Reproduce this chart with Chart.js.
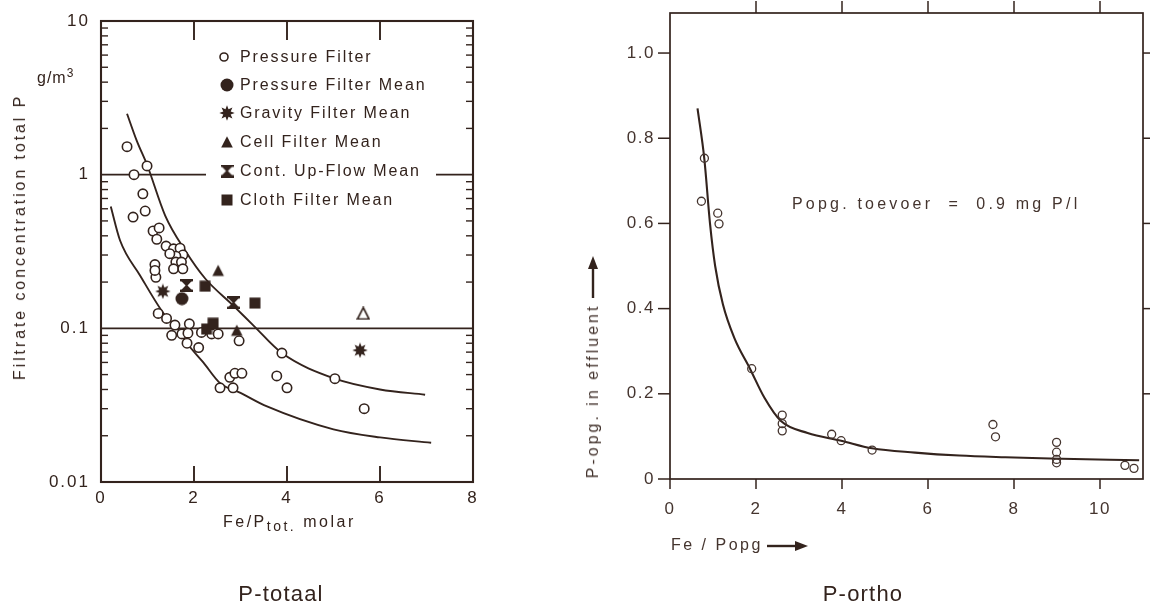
<!DOCTYPE html>
<html>
<head>
<meta charset="utf-8">
<script src="https://cdn.jsdelivr.net/npm/chart.js@4.4.1/dist/chart.umd.min.js"></script>
<style>
  body { margin: 0; background: #fff; width: 1150px; height: 607px; position: relative; overflow: hidden;
         font-family: "Liberation Sans", Arial, sans-serif; color: #33231d; }
  .txt { position: absolute; white-space: nowrap; line-height: 1; }
  #leftChart { position: absolute; left: 0; top: 0; }
  #rightChart { position: absolute; left: 560px; top: 0; }
  .light { color: #44342e; }
</style>
</head>
<body>
<canvas id="leftChart" width="500" height="607"></canvas>
<canvas id="rightChart" width="590" height="607"></canvas>

<div class="txt" style="left:37px; top:67px; font-size:16px; letter-spacing:1px;">g/m<sup style="font-size:12px;">3</sup></div>
<div class="txt" style="left:20px; top:237px; font-size:16px; letter-spacing:2.9px; transform:translate(-50%,-50%) rotate(-90deg);">Filtrate concentration total P</div>
<div class="txt" style="left:223px; top:514px; font-size:16px; letter-spacing:2.5px;">Fe/P<sub style="font-size:14px;">tot.</sub> molar</div>
<div class="txt" style="left:281px; top:594px; font-size:22px; letter-spacing:1.2px; transform:translate(-50%,-50%);">P-totaal</div>

<div class="txt light" style="left:593px; top:391px; font-size:16px; letter-spacing:3px; transform:translate(-50%,-50%) rotate(-90deg);">P-opg. in effluent</div>
<div class="txt light" style="left:671px; top:545px; font-size:16px; letter-spacing:2.5px; transform:translateY(-50%);">Fe / Popg</div>
<div class="txt light" style="left:792px; top:204px; font-size:16px; letter-spacing:3.2px; transform:translateY(-50%);">Popg. toevoer&nbsp; =&nbsp; 0.9 mg P/l</div>
<div class="txt" style="left:863px; top:594px; font-size:22px; letter-spacing:1.2px; transform:translate(-50%,-50%);">P-ortho</div>

<script>
// ---- P-totaal: filtrate total P against Fe/P molar ratio (log y) ----
var leftXTicks = [0, 2, 4, 6, 8];
var leftYTicks = [0.01, 0.1, 1, 10];
var leftGridLines = [0.1, 1];

var pressureX = [0.56, 0.71, 0.99, 0.90, 0.69, 0.95,
                 1.12, 1.25, 1.20, 1.40, 1.56, 1.70, 1.76, 1.61, 1.48, 1.61, 1.73, 1.56, 1.76, 1.16, 1.18, 1.16,
                 1.23, 1.41, 1.59, 1.90, 1.52, 1.74, 1.87, 1.85, 2.10, 2.16, 2.38, 2.52, 2.97,
                 2.56, 2.84, 2.77, 2.88, 3.03, 3.78, 4.00, 3.89, 5.03, 5.66];
var pressureY = [1.52, 1.00, 1.14, 0.75, 0.53, 0.58,
                 0.43, 0.45, 0.38, 0.343, 0.329, 0.332, 0.30, 0.295, 0.306, 0.27, 0.27, 0.244, 0.244, 0.26, 0.215, 0.238,
                 0.125, 0.116, 0.105, 0.107, 0.09, 0.092, 0.093, 0.08, 0.075, 0.094, 0.092, 0.092, 0.083,
                 0.041, 0.041, 0.048, 0.051, 0.051, 0.049, 0.041, 0.069, 0.047, 0.030];

var pressureMeanX = [1.74];
var pressureMeanY = [0.156];
var gravityMeanX = [1.33, 5.57];
var gravityMeanY = [0.174, 0.072];
var cellMeanX = [2.52, 2.92];
var cellMeanY = [0.238, 0.097];
var cellOpenX = [5.64];
var cellOpenY = [0.125];
var upflowMeanX = [1.84, 2.85];
var upflowMeanY = [0.19, 0.147];
var clothMeanX = [2.24, 3.31, 2.27, 2.41];
var clothMeanY = [0.188, 0.146, 0.099, 0.108];

var upperX = [0.56, 0.77, 0.99, 1.38, 1.81, 2.24, 2.84, 3.27, 3.89, 5.03, 6.0, 6.97];
var upperY = [2.49, 1.66, 1.16, 0.542, 0.321, 0.211, 0.141, 0.105, 0.069, 0.047, 0.040, 0.037];
var lowerX = [0.21, 0.41, 0.84, 1.38, 1.63, 1.85, 2.2, 2.56, 3.0, 3.57, 5.0, 6.0, 7.1];
var lowerY = [0.62, 0.373, 0.221, 0.121, 0.101, 0.08, 0.06, 0.044, 0.038, 0.031, 0.022, 0.0195, 0.018];

var legendNames = ['Pressure Filter', 'Pressure Filter Mean', 'Gravity Filter Mean',
                   'Cell Filter Mean', 'Cont. Up-Flow Mean', 'Cloth Filter Mean'];

// ---- P-ortho: ortho-P in effluent against Fe/Popg ----
var rightXTicks = [0, 2, 4, 6, 8, 10];
var rightYTicks = [0, 0.2, 0.4, 0.6, 0.8, 1.0];

var orthoX = [0.80, 0.73, 1.11, 1.14, 1.90, 2.61, 2.61, 2.61, 3.76, 3.98, 4.70,
              7.51, 7.57, 8.99, 8.99, 8.99, 8.99, 10.58, 10.79];
var orthoY = [0.753, 0.652, 0.624, 0.599, 0.259, 0.150, 0.130, 0.113, 0.105, 0.090, 0.068,
              0.128, 0.099, 0.086, 0.063, 0.046, 0.038, 0.032, 0.025];

var orthoCurveX = [0.64, 0.8, 0.93, 1.05, 1.23, 1.5, 1.86, 2.2, 2.58, 3.2, 3.98, 4.7, 5.7, 6.73, 7.8, 8.84, 10.91];
var orthoCurveY = [0.87, 0.75, 0.6, 0.5, 0.41, 0.33, 0.259, 0.19, 0.136, 0.108, 0.09, 0.072, 0.062, 0.055, 0.051, 0.048, 0.044];

var ink = '#33231d';
var inkLight = '#44342e';
var fontFamily = '"Liberation Sans", Arial, sans-serif';

function pts(xs, ys) {
    return xs.map(function (x, i) { return { x: x, y: ys[i] }; });
}

// small bitmaps used as point styles for the filled symbols
function marker(kind, s) {
    var c = document.createElement('canvas');
    c.width = s; c.height = s;
    var g = c.getContext('2d');
    var h = s / 2;
    g.fillStyle = ink; g.strokeStyle = ink; g.lineWidth = 1.7;
    g.beginPath();
    if (kind === 'disc') {
        g.arc(h, h, h - 0.5, 0, Math.PI * 2); g.fill();
    } else if (kind === 'star') {
        for (var i = 0; i < 16; i++) {
            var r = i % 2 ? h * 0.5 : h - 0.3;
            var a = i * Math.PI / 8 - Math.PI / 2;
            g.lineTo(h + r * Math.cos(a), h + r * Math.sin(a));
        }
        g.closePath(); g.fill();
    } else if (kind === 'tri' || kind === 'opentri') {
        g.moveTo(h, 1.2); g.lineTo(s - 1.2, s - 1.5); g.lineTo(1.2, s - 1.5); g.closePath();
        if (kind === 'tri') g.fill(); else g.stroke();
    } else if (kind === 'square') {
        g.fillRect(0.5, 0.5, s - 1, s - 1);
    } else if (kind === 'glass') {
        g.fillRect(0, 0, s, 2.4); g.fillRect(0, s - 2.4, s, 2.4);
        g.moveTo(1.2, 2); g.lineTo(s - 1.2, 2); g.lineTo(h + 1, h); g.lineTo(h - 1, h); g.closePath();
        g.moveTo(1.2, s - 2); g.lineTo(s - 1.2, s - 2); g.lineTo(h + 1, h); g.lineTo(h - 1, h); g.closePath();
        g.fill();
    }
    return c;
}

var discImg = marker('disc', 14);
var starImg = marker('star', 16);
var triImg = marker('tri', 14);
var openTriImg = marker('opentri', 14);
var glassImg = marker('glass', 13);
var squareImg = marker('square', 12);

function line(ctx, x1, y1, x2, y2) {
    ctx.beginPath(); ctx.moveTo(x1, y1); ctx.lineTo(x2, y2); ctx.stroke();
}

function fixedTicks(list) {
    return function (scale) { scale.ticks = list.map(function (v) { return { value: v }; }); };
}

// pin the plot areas: fixed axis sizes, no label overhang padding
function fixWidth(w) {
    return function (s) { s.width = w; s.paddingTop = 0; s.paddingBottom = 0; };
}
function fixHeight(h) {
    return function (s) { s.height = h; s.paddingLeft = 0; s.paddingRight = 0; };
}

var leftFrame = {
    id: 'leftFrame',
    beforeDraw: function (chart) { chart.ctx.letterSpacing = '2px'; },
    beforeDatasetsDraw: function (chart) {
        var ctx = chart.ctx, a = chart.chartArea, x = chart.scales.x, y = chart.scales.y;
        ctx.save();
        ctx.letterSpacing = '0px';
        ctx.strokeStyle = ink;
        ctx.lineWidth = 1.7;
        leftGridLines.forEach(function (v) {
            var py = y.getPixelForValue(v);
            line(ctx, a.left, py, a.right, py);
        });
        ctx.lineWidth = 1.4;
        [0.01, 0.1, 1].forEach(function (d) {
            for (var m = 2; m <= 9; m++) {
                var py = y.getPixelForValue(d * m);
                line(ctx, a.left, py, a.left + 7, py);
                line(ctx, a.right, py, a.right - 7, py);
            }
        });
        ctx.lineWidth = 1.9;
        leftXTicks.slice(1, -1).forEach(function (v) {
            var px = x.getPixelForValue(v);
            line(ctx, px, a.top, px, a.top + 19);
            line(ctx, px, a.bottom, px, a.bottom - 16);
        });
        ctx.lineWidth = 2.1;
        ctx.strokeRect(a.left, a.top, a.right - a.left, a.bottom - a.top);
        ctx.restore();
    },
    afterDatasetsDraw: function (chart) {
        var ctx = chart.ctx;
        var rows = [57, 85, 113, 142, 171, 200];
        var imgs = [null, discImg, starImg, triImg, glassImg, squareImg];
        ctx.save();
        ctx.fillStyle = '#fff';
        ctx.fillRect(206, 44, 230, 170);
        ctx.fillStyle = ink;
        ctx.strokeStyle = ink;
        ctx.font = '16px ' + fontFamily;
        ctx.letterSpacing = '1.9px';
        ctx.textBaseline = 'middle';
        ctx.textAlign = 'left';
        rows.forEach(function (ry, i) {
            if (imgs[i]) {
                ctx.drawImage(imgs[i], 227 - imgs[i].width / 2, ry - imgs[i].height / 2);
            } else {
                ctx.lineWidth = 1.6;
                ctx.beginPath(); ctx.arc(224, ry, 4, 0, Math.PI * 2); ctx.stroke();
            }
            ctx.fillText(legendNames[i], 240, ry + 1);
        });
        ctx.restore();
    }
};

var rightFrame = {
    id: 'rightFrame',
    beforeDraw: function (chart) { chart.ctx.letterSpacing = '1.5px'; },
    beforeDatasetsDraw: function (chart) {
        var ctx = chart.ctx, a = chart.chartArea, x = chart.scales.x, y = chart.scales.y;
        ctx.save();
        ctx.strokeStyle = ink;
        ctx.lineWidth = 1.5;
        rightYTicks.forEach(function (v) {
            var py = y.getPixelForValue(v);
            line(ctx, a.left - 12, py, a.left, py);
            if (v > 0) line(ctx, a.right, py, a.right + 8, py);
        });
        rightXTicks.forEach(function (v) {
            var px = x.getPixelForValue(v);
            line(ctx, px, a.bottom, px, a.bottom + 10);
            if (v > 0) line(ctx, px, a.top, px, a.top - 12);
        });
        ctx.lineWidth = 1.7;
        ctx.strokeRect(a.left, a.top, a.right - a.left, a.bottom - a.top);
        ctx.restore();
    },
    afterDraw: function (chart) {
        var ctx = chart.ctx;
        ctx.save();
        ctx.fillStyle = ink;
        ctx.strokeStyle = ink;
        ctx.lineWidth = 2.4;
        // arrow after the y title, pointing up
        line(ctx, 33, 298, 33, 266);
        ctx.beginPath(); ctx.moveTo(33, 256); ctx.lineTo(38, 269); ctx.lineTo(28, 269); ctx.closePath(); ctx.fill();
        // arrow after the x title, pointing right
        line(ctx, 207, 546, 236, 546);
        ctx.beginPath(); ctx.moveTo(248, 546); ctx.lineTo(235, 541); ctx.lineTo(235, 551); ctx.closePath(); ctx.fill();
        ctx.restore();
    }
};

var baseOptions = function (padding) {
    return {
        responsive: false,
        animation: false,
        events: [],
        layout: { padding: padding, autoPadding: false },
        plugins: { legend: { display: false }, tooltip: { enabled: false } }
    };
};

var leftOpts = baseOptions({ top: 21, right: 27, left: 0, bottom: 0 });
leftOpts.scales = {
    x: {
        type: 'linear', min: 0, max: 8,
        afterBuildTicks: fixedTicks(leftXTicks),
        afterFit: fixHeight(607 - 482),
        grid: { display: false, drawTicks: false }, border: { display: false },
        ticks: { color: ink, padding: 6, autoSkip: false, maxRotation: 0, font: { size: 17, family: fontFamily } }
    },
    y: {
        type: 'logarithmic', min: 0.01, max: 10,
        afterBuildTicks: fixedTicks(leftYTicks),
        afterFit: fixWidth(101),
        grid: { display: false, drawTicks: false }, border: { display: false },
        ticks: { color: ink, padding: 11, autoSkip: false, font: { size: 17, family: fontFamily },
                 callback: function (v) { return String(v); } }
    }
};

var curveStyle = { showLine: true, pointRadius: 0, borderColor: ink, borderWidth: 1.9,
                   cubicInterpolationMode: 'monotone', order: 10 };
function symbols(data, img) {
    return { data: data, pointStyle: img, pointRadius: 6, showLine: false, order: 1 };
}

new Chart(document.getElementById('leftChart'), {
    type: 'scatter',
    data: {
        datasets: [
            Object.assign({ label: 'upper', data: pts(upperX, upperY) }, curveStyle),
            Object.assign({ label: 'lower', data: pts(lowerX, lowerY) }, curveStyle),
            { label: 'Pressure Filter', data: pts(pressureX, pressureY), pointStyle: 'circle', pointRadius: 4.7,
              borderColor: ink, borderWidth: 1.6, backgroundColor: '#fff', order: 2 },
            Object.assign({ label: 'Pressure Filter Mean' }, symbols(pts(pressureMeanX, pressureMeanY), discImg)),
            Object.assign({ label: 'Gravity Filter Mean' }, symbols(pts(gravityMeanX, gravityMeanY), starImg)),
            Object.assign({ label: 'Cell Filter Mean' }, symbols(pts(cellMeanX, cellMeanY), triImg)),
            Object.assign({ label: 'Cell Filter' }, symbols(pts(cellOpenX, cellOpenY), openTriImg)),
            Object.assign({ label: 'Cont. Up-Flow Mean' }, symbols(pts(upflowMeanX, upflowMeanY), glassImg)),
            Object.assign({ label: 'Cloth Filter Mean' }, symbols(pts(clothMeanX, clothMeanY), squareImg))
        ]
    },
    options: leftOpts,
    plugins: [leftFrame]
});

var rightOpts = baseOptions({ top: 13, right: 7, left: 0, bottom: 0 });
rightOpts.scales = {
    x: {
        type: 'linear', min: 0, max: 11,
        afterBuildTicks: fixedTicks(rightXTicks),
        afterFit: fixHeight(607 - 479),
        grid: { display: false, drawTicks: false }, border: { display: false },
        ticks: { color: inkLight, padding: 20, autoSkip: false, maxRotation: 0, font: { size: 17, family: fontFamily } }
    },
    y: {
        type: 'linear', min: 0, max: 1.094,
        afterBuildTicks: fixedTicks(rightYTicks),
        afterFit: fixWidth(110),
        grid: { display: false, drawTicks: false }, border: { display: false },
        ticks: { color: inkLight, padding: 15, autoSkip: false, font: { size: 17, family: fontFamily },
                 callback: function (v) { return v === 0 ? '0' : v.toFixed(1); } }
    }
};

new Chart(document.getElementById('rightChart'), {
    type: 'scatter',
    data: {
        datasets: [
            Object.assign({ label: 'curve', data: pts(orthoCurveX, orthoCurveY) }, curveStyle, { borderWidth: 2.1 }),
            { label: 'P-ortho', data: pts(orthoX, orthoY), pointStyle: 'circle', pointRadius: 4,
              borderColor: inkLight, borderWidth: 1.3, backgroundColor: 'rgba(255,255,255,0)', order: 1 }
        ]
    },
    options: rightOpts,
    plugins: [rightFrame]
});
</script>
</body>
</html>
